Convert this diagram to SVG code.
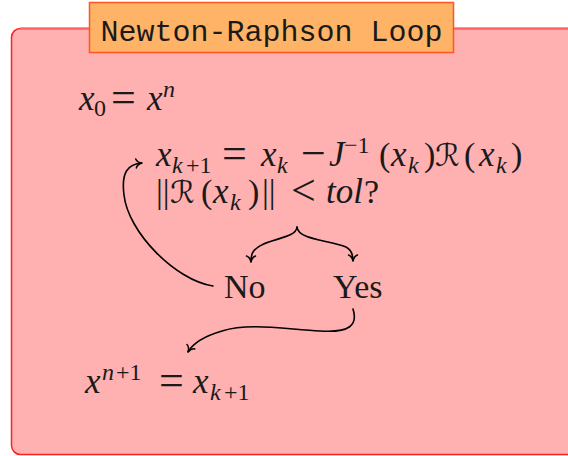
<svg xmlns="http://www.w3.org/2000/svg" width="568" height="456" viewBox="0 0 568 456">
<style>
.t{font-family:"Liberation Serif",serif;fill:#1a1a1a;font-size:34px}
.i{font-style:italic;font-size:35px}
.s{font-size:24px}
.it{font-style:italic}
.op{font-size:44px}
.cal{font-family:"DejaVu Serif","DejaVu Sans",serif;font-style:italic;font-size:31px}
.c{fill:none;stroke:#000;stroke-width:1.6;stroke-linecap:round}
</style>
<defs>
<marker id="to" viewBox="-8 -6 10 12" markerWidth="10" markerHeight="12" refX="0" refY="0" orient="auto" markerUnits="userSpaceOnUse">
<path d="M-6,-4.5 C-5,-1.5 -1.5,-0.3 0,0 C-1.5,0.3 -5,1.5 -6,4.5" fill="none" stroke="#000" stroke-width="1.5" stroke-linecap="round"/>
</marker>
</defs>
<g id="frame">
<rect x="11.5" y="28.5" width="580" height="426" rx="9" fill="#ffb0b0" stroke="#ff2020" stroke-width="1.5"/>
<line x1="20" y1="28.5" x2="568" y2="28.5" stroke="#ff6060" stroke-width="2"/>
</g>
<g id="title">
<rect x="89.5" y="2.5" width="364" height="50" fill="#ffb366" stroke="#ff5522" stroke-width="1.5"/>
<text x="271.5" y="41" text-anchor="middle" font-family="Liberation Mono,monospace" font-size="30" fill="#1a1a1a">Newton-Raphson Loop</text>
</g>
<g id="init">
<text class="t"><tspan class="i" x="79" y="110">x</tspan><tspan class="s" x="94" y="116">0</tspan><tspan class="op" x="111" y="112">=</tspan><tspan class="i" x="147" y="110">x</tspan><tspan class="s it" x="163" y="97">n</tspan></text>
</g>
<g id="update">
<text class="t"><tspan class="i" x="156" y="166">x</tspan><tspan class="s it" x="172" y="173">k</tspan><tspan class="s" x="186" y="173">+1</tspan><tspan class="op" x="222" y="168">=</tspan><tspan class="i" x="261" y="166">x</tspan><tspan class="s it" x="277" y="173">k</tspan><tspan class="op" x="301" y="168">−</tspan><tspan class="i" x="329" y="166">J</tspan><tspan class="s" x="344" y="153">−1</tspan><tspan x="379" y="166">(</tspan><tspan class="i" x="391" y="166">x</tspan><tspan class="s it" x="408" y="173">k</tspan><tspan x="424" y="166">)</tspan><tspan class="cal" x="435" y="166">ℛ</tspan><tspan x="464" y="166">(</tspan><tspan class="i" x="479" y="166">x</tspan><tspan class="s it" x="496" y="173">k</tspan><tspan x="511" y="166">)</tspan></text>
</g>
<g id="test">
<text class="t"><tspan x="156" y="203">||</tspan><tspan class="cal" x="170" y="203">ℛ</tspan><tspan x="201" y="203">(</tspan><tspan class="i" x="213" y="203">x</tspan><tspan class="s it" x="230" y="210">k</tspan><tspan x="248" y="203">)</tspan><tspan x="262" y="203">||</tspan><tspan class="op" x="291" y="205">&lt;</tspan><tspan class="i" x="326" y="203">tol</tspan><tspan x="364" y="203">?</tspan></text>
</g>
<g id="no">
<text class="t" x="224" y="298">No</text>
</g>
<g id="yes">
<text class="t" x="333" y="298">Yes</text>
</g>
<g id="result">
<text class="t"><tspan class="i" x="85" y="393">x</tspan><tspan class="s it" x="102" y="380">n</tspan><tspan class="s" x="116" y="380">+1</tspan><tspan class="op" x="159" y="395">=</tspan><tspan class="i" x="193" y="393">x</tspan><tspan class="s it" x="210" y="400">k</tspan><tspan class="s" x="224" y="400">+1</tspan></text>
</g>
<g id="connectors">
<path class="c" d="M213,286 C175,280 128,232 124,195 C121,172 128,164 142,163" marker-end="url(#to)"/>
<path class="c" d="M297,227 C296,240 262,238 253,252 C251,255 251,258 251,262" marker-end="url(#to)"/>
<path class="c" d="M297,227 C298,240 330,240 346,247 C352,250 353,255 353,261" marker-end="url(#to)"/>
<path class="c" d="M353,309 C358,325 350,333 320,331 C290,330 250,322 222,331 C205,336 193,343 188,352" marker-end="url(#to)"/>
</g>
</svg>
